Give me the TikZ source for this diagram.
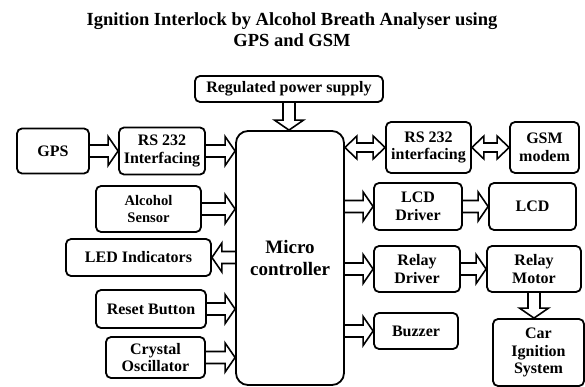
\documentclass[tikz,border=0pt]{standalone}
\usepackage{fontspec}
\setmainfont{Liberation Serif}
\usepackage{tikz}
\usetikzlibrary{calc}

\tikzset{
  box/.style={draw, line width=1.8pt, rounded corners=5pt, align=center, inner sep=1pt,
    font=\fontsize{16}{17.5}\selectfont\bfseries},
  fatline/.style={line width=1.6pt, line join=miter}
}

% single hollow arrow from #1 to #2
\newcommand{\fatarrow}[2]{%
  \coordinate (fa) at (#1);
  \coordinate (fb) at (#2);
  \draw[fatline] ($(fa)!6pt!90:(fb)$) -- ($(fb)!10pt!(fa)!6pt!90:(fb)$)
    -- ($(fb)!10pt!(fa)!14.5pt!90:(fb)$) -- (fb)
    -- ($(fb)!10pt!(fa)!14.5pt!-90:(fb)$) -- ($(fb)!10pt!(fa)!6pt!-90:(fb)$)
    -- ($(fa)!6pt!-90:(fb)$);
}
% double hollow arrow between #1 and #2
\newcommand{\fatdarrow}[2]{%
  \coordinate (fa) at (#1);
  \coordinate (fb) at (#2);
  \draw[fatline] (fa) -- ($(fa)!12pt!(fb)!11.5pt!90:(fb)$) -- ($(fa)!12pt!(fb)!4.5pt!90:(fb)$)
    -- ($(fb)!12pt!(fa)!4.5pt!90:(fb)$) -- ($(fb)!12pt!(fa)!11.5pt!90:(fb)$) -- (fb)
    -- ($(fb)!12pt!(fa)!11.5pt!-90:(fb)$) -- ($(fb)!12pt!(fa)!4.5pt!-90:(fb)$)
    -- ($(fa)!12pt!(fb)!4.5pt!-90:(fb)$) -- ($(fa)!12pt!(fb)!11.5pt!-90:(fb)$) -- cycle;
}

\begin{document}
\begin{tikzpicture}[x=1pt, y=-1pt]
\useasboundingbox (0,0) rectangle (585,387);

% Title
\node[align=center, font=\fontsize{18.5}{21}\selectfont\bfseries] (title) at (292,30)
  {Ignition Interlock by Alcohol Breath Analyser using\\GPS and GSM};

% Microcontroller and supply
\node[box, rounded corners=12pt, minimum width=108pt, minimum height=254pt,
  font=\fontsize{19}{22}\selectfont\bfseries] (mcu) at (290,258) {Micro\\controller};
\node[box, minimum width=188pt, minimum height=26pt] (power) at (289,89) {Regulated power supply};

% Left side
\node[box, minimum width=72pt, minimum height=45pt] (gps) at (53,151) {GPS};
\node[box, minimum width=86pt, minimum height=47pt] (rsl) at (162,151) {RS 232\\Interfacing};
\node[box, minimum width=105pt, minimum height=46pt,
  font=\fontsize{14.6}{17}\selectfont\bfseries] (alc) at (148.5,209) {Alcohol\\Sensor};
\node[box, minimum width=145pt, minimum height=37pt] (led) at (138.5,257.5) {LED Indicators};
\node[box, minimum width=110pt, minimum height=38pt] (rst) at (151,309) {Reset Button};
\node[box, minimum width=99pt, minimum height=41pt] (xtal) at (155.5,357.5) {Crystal\\Oscillator};

% Right side
\node[box, minimum width=85pt, minimum height=51pt] (rsr) at (428.5,147.5) {RS 232\\interfacing};
\node[box, minimum width=69pt, minimum height=51pt] (gsm) at (544.5,147.5) {GSM\\modem};
\node[box, minimum width=88pt, minimum height=47pt] (lcdd) at (418,206.5) {LCD\\Driver};
\node[box, minimum width=87pt, minimum height=47pt] (lcd) at (532.5,206.5) {LCD};
\node[box, minimum width=86pt, minimum height=46pt] (rld) at (417,269) {Relay\\Driver};
\node[box, minimum width=94pt, minimum height=46pt] (rlm) at (534,269) {Relay\\Motor};
\node[box, minimum width=84pt, minimum height=36pt] (buz) at (416,331) {Buzzer};
\node[box, minimum width=91pt, minimum height=67pt] (car) at (538.5,352.5) {Car\\Ignition\\System};

% Arrows
\fatarrow{power.south}{power.south |- mcu.north}
\fatarrow{gps.east}{rsl.west}
\fatarrow{rsl.east}{rsl.east -| mcu.west}
\fatarrow{alc.east}{alc.east -| mcu.west}
\fatarrow{led.east -| mcu.west}{led.east}
\fatarrow{rst.east}{rst.east -| mcu.west}
\fatarrow{xtal.east}{xtal.east -| mcu.west}
\fatdarrow{rsr.west -| mcu.east}{rsr.west}
\fatdarrow{rsr.east}{gsm.west}
\fatarrow{lcdd.west -| mcu.east}{lcdd.west}
\fatarrow{lcdd.east}{lcd.west}
\fatarrow{rld.west -| mcu.east}{rld.west}
\fatarrow{rld.east}{rlm.west}
\fatarrow{buz.west -| mcu.east}{buz.west}
\fatarrow{rlm.south}{rlm.south |- car.north}
\end{tikzpicture}
\end{document}
